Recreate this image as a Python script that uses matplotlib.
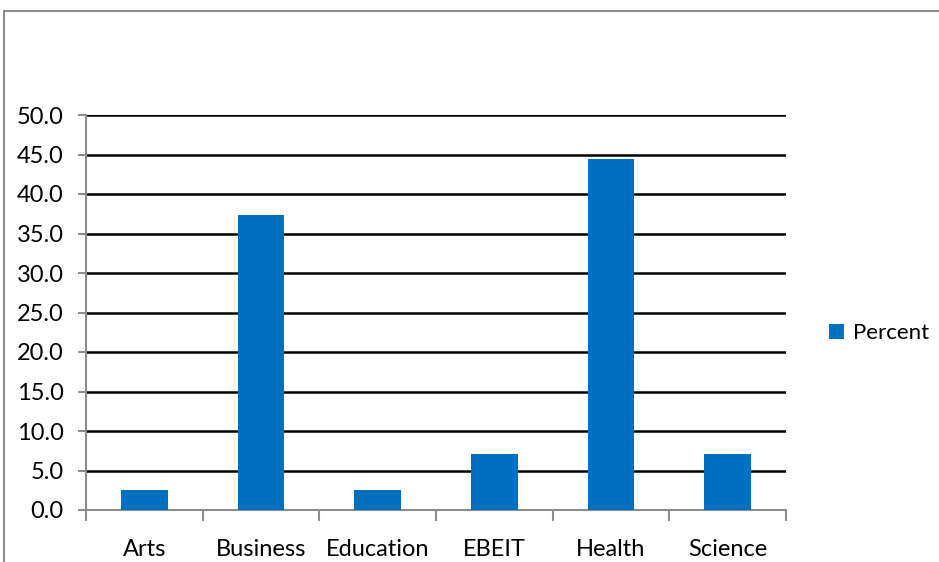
import numpy as np
import matplotlib.pyplot as plt
from matplotlib.patches import Rectangle

# faculty shares (percent)
faculties = ['Arts', 'Business', 'Education', 'EBEIT', 'Health', 'Science']
percent = [2.5, 37.3, 2.5, 7.1, 44.4, 7.1]
yticks = np.arange(0, 50.1, 5)

plt.rcParams['font.family'] = ['Lato', 'DejaVu Sans']

fig = plt.figure(figsize=(9.39, 5.62), dpi=100)

# chart area frame, running off the right and bottom edges
fig.patches.append(Rectangle((4 / 939, -0.1), 1.2, 1 - 11 / 562 + 0.1,
                             transform=fig.transFigure, fill=False,
                             edgecolor='#8c8c8c', linewidth=1.5))

ax = fig.add_axes([86 / 939, 1 - 510 / 562, 700 / 939, 395 / 562])

x = np.arange(len(faculties))
ax.bar(x, percent, width=0.4, color='#0070c0', label='Percent', zorder=3)

ax.set_xlim(-0.5, len(faculties) - 0.5)
ax.set_ylim(0, 50)
ax.set_yticks(yticks)
ax.set_yticklabels(['%.1f' % v for v in yticks], fontsize=17)
for v in yticks[1:]:
    ax.axhline(v, color='black', linewidth=1.8, zorder=1)

# category labels between the boundary ticks
ax.set_xticks(x)
ax.set_xticklabels(faculties, fontsize=17)
ax.tick_params(axis='x', length=0, pad=21)
ax.set_xticks(np.arange(-0.5, len(faculties)), minor=True)
ax.tick_params(axis='x', which='minor', length=8, width=1.5, color='#8c8c8c')
ax.tick_params(axis='y', length=6, width=1.5, color='#8c8c8c', pad=10)

for side in ['top', 'right']:
    ax.spines[side].set_visible(False)
for side in ['left', 'bottom']:
    ax.spines[side].set_color('#8c8c8c')
    ax.spines[side].set_linewidth(1.5)

ax.legend(loc='center left', bbox_to_anchor=(1.062, 0.448), frameon=False,
          fontsize=16, borderpad=0, borderaxespad=0,
          handlelength=0.65, handleheight=0.65, handletextpad=0.4)

fig.savefig('out.png', dpi=100)
